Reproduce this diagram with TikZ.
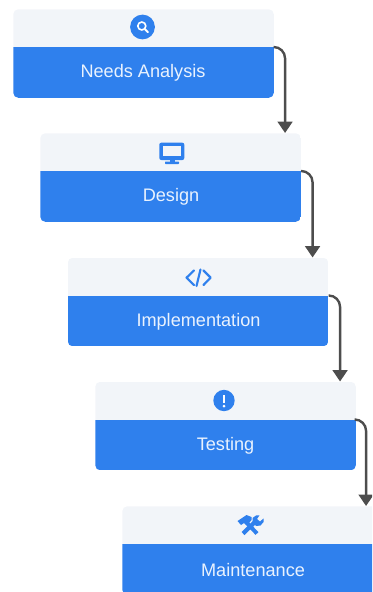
\documentclass[tikz,border=0pt]{standalone}
\usepackage{fontspec}
\setmainfont{Liberation Sans}
\usetikzlibrary{arrows.meta}
\definecolor{stageblue}{HTML}{2F80ED}
\definecolor{headgray}{HTML}{F2F5F9}
\definecolor{linkgray}{HTML}{4D4D4D}
\definecolor{labelwhite}{HTML}{E9F2FE}
\tikzset{
    stage/.style={anchor=north west,rounded corners=3.75pt,inner sep=0pt,minimum width=195.4pt,minimum height=66.4pt,
        path picture={
            \fill[stageblue,sharp corners] (path picture bounding box.south west) rectangle ([yshift=-28.5pt]path picture bounding box.north east);
            \fill[headgray,sharp corners] (path picture bounding box.north west) rectangle ([yshift=-28.5pt]path picture bounding box.north east);}},
    stagelabel/.style={text=labelwhite,font=\fontsize{13.6pt}{16pt}\selectfont,inner sep=0pt},
    link/.style={draw=linkgray,line width=1.8pt,rounded corners=8.5pt,-{Triangle[length=8.5pt,width=11pt]}},
    iconline/.style={draw=stageblue,line width=1.6pt,line cap=round,line join=round},
    icondisc/.style={circle,fill=stageblue,inner sep=0pt},
}
\begin{document}
\begin{tikzpicture}[x=0.75pt,y=-0.75pt]
    \clip (0,0) rectangle (372,592);
    \node[stage] (needs) at (13,9) {};
    \node[stage] (design) at (40,133) {};
    \node[stage] (impl) at (67.5,257.5) {};
    \node[stage] (testing) at (95,381.5) {};
    \node[stage] (maint) at (122,506) {};
    \node[stagelabel] (needslabel) at (143,73) {Needs Analysis};
    \node[stagelabel] (designlabel) at (171,197) {Design};
    \node[stagelabel] (impllabel) at (198.5,322) {Implementation};
    \node[stagelabel] (testinglabel) at (225.5,446) {Testing};
    \node[stagelabel] (maintlabel) at (253,570) {Maintenance};
    % connectors
    \coordinate (needsout) at ([yshift=-28.5pt]needs.north east);
    \coordinate (designout) at ([yshift=-28.5pt]design.north east);
    \coordinate (implout) at ([yshift=-28.5pt]impl.north east);
    \coordinate (testingout) at ([yshift=-28.5pt]testing.north east);
    \coordinate (designin) at ([xshift=-12pt]design.north east);
    \coordinate (implin) at ([xshift=-12pt]impl.north east);
    \coordinate (testingin) at ([xshift=-12pt]testing.north east);
    \coordinate (maintin) at ([xshift=7.5pt]testingout |- maint.north);
    \draw[link] (needsout) -| (designin);
    \draw[link] (designout) -| (implin);
    \draw[link] (implout) -| (testingin);
    \draw[link] (testingout) -| (maintin);
    % search icon
    \node[icondisc,minimum size=18.6pt] (searchicon) at (142.5,27) {};
    \draw[white,line width=1.2pt] (141.8,26) circle (4);
    \draw[white,line width=1.5pt,line cap=round] (145,29.2) -- (148,32.2);
    % monitor icon
    \fill[stageblue,rounded corners=1.5pt] (159.3,142.7) rectangle (184.3,160);
    \fill[headgray] (162.5,146) rectangle (181,155.5);
    \fill[stageblue] (169.5,159) rectangle (174.5,162.5);
    \fill[stageblue,rounded corners=0.5pt] (165,161.5) rectangle (179,164);
    % code icon
    \draw[iconline] (194,270.5) -- (186.5,277.7) -- (194,285);
    \draw[iconline] (203.5,270.5) -- (210.7,277.7) -- (203.5,285);
    \draw[iconline] (200.5,269.5) -- (196.5,286);
    % warning icon
    \node[icondisc,minimum size=16pt] (warnicon) at (224,400.5) {};
    \fill[white] (222.7,395) rectangle (225.3,403);
    \fill[white] (224,406) circle (1.5);
    % tools icon
    \draw[stageblue,line width=3pt] (257,533.5) -- (246,522);
    \fill[stageblue] (237.5,521) -- (246.5,515) -- (251.5,517) -- (251.5,520) -- (247,525.5) -- (244,523) -- (241,525) -- cycle;
    \draw[stageblue,line width=3.2pt] (243,533.5) -- (255,522);
    \fill[stageblue] (252.5,522) -- (252.5,518) -- (256,515.5) -- (259.5,515.3) -- (257,519) -- (260,521.5) -- (263.5,518.5) -- (263.5,522) -- (260.5,525.5) -- (256,526) -- cycle;
\end{tikzpicture}
\end{document}
